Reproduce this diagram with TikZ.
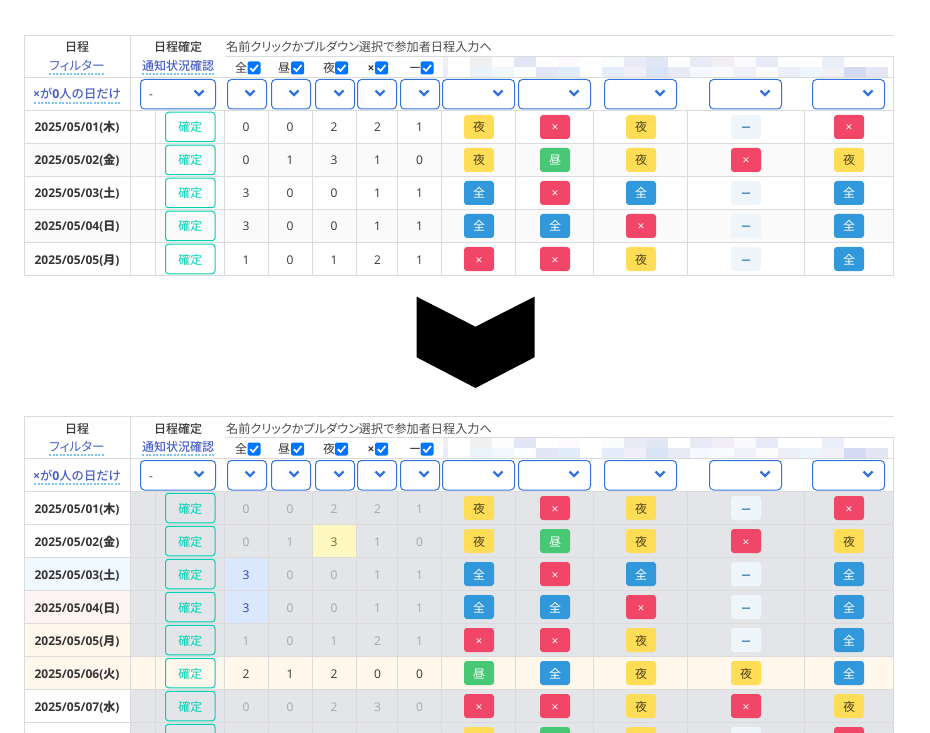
\documentclass[tikz,border=0pt]{standalone}
\usepackage{fontspec}
\usepackage{xcolor}
\setmainfont{Noto Sans CJK JP}
\newfontfamily\latn{Open Sans}
\newfontfamily\cjkmed{Noto Sans CJK JP Medium}
\newfontfamily\cjkprop{Noto Sans CJK JP}[RawFeature=+palt]
\definecolor{cellline}{HTML}{DBDBDB}
\definecolor{stripe}{HTML}{FAFAFA}
\definecolor{linkblue}{HTML}{3273DC}
\definecolor{filterblue}{HTML}{485FC7}
\definecolor{dotblue}{HTML}{7CC4F2}
\definecolor{primary}{HTML}{00D1B2}
\definecolor{bodytext}{HTML}{363636}
\definecolor{headtext}{HTML}{4A4A4A}
\definecolor{tickblue}{HTML}{0075FF}
\definecolor{tagyellow}{HTML}{FFDD57}
\definecolor{tagred}{HTML}{F14668}
\definecolor{taggreen}{HTML}{48C774}
\definecolor{tagblue}{HTML}{3298DC}
\definecolor{taglight}{HTML}{EEF5FB}
\definecolor{taglighttext}{HTML}{1D72AA}
\definecolor{greycell}{HTML}{E4E5E9}
\definecolor{greytext}{HTML}{A3A6B0}
\definecolor{rowpeach}{HTML}{FFF6EC}
\definecolor{rowsky}{HTML}{EFF7FF}
\definecolor{rowpink}{HTML}{FEF3F3}
\definecolor{cellyellow}{HTML}{FFF8C0}
\definecolor{cellblue}{HTML}{DAE7FC}
\definecolor{hiyellow}{HTML}{8A6410}
\definecolor{hiblue}{HTML}{2A3FC0}
\newcommand{\basefont}{\fontsize{12}{14}\selectfont}
\tikzset{
    every node/.style={font=\basefont,inner sep=0pt,text=bodytext,text height=10.5pt,text depth=0.5pt},
    gridline/.style={cellline,line width=1pt},
    filterlink/.style={text=filterblue},
    dotline/.style={dotblue,line width=2pt,dash pattern=on 2pt off 1.5pt},
    selectbox/.style={draw=linkblue,line width=1pt,rounded corners=4pt},
    chevron/.style={linkblue,line width=2.2pt},
    checkbox/.style={fill=tickblue,rounded corners=2pt,minimum width=13pt,minimum height=13pt},
    tickmark/.style={white,line width=1.7pt},
    okbutton/.style={draw=primary,line width=1pt,rounded corners=3pt,minimum width=49.5pt,minimum height=29.5pt,text=primary},
    numcell/.style={font=\latn\basefont},
    datecell/.style={font=\latn\bfseries\basefont},
    tagbox/.style={rounded corners=3pt,minimum width=30pt,minimum height=24pt},
    tag夜/.style={tagbox,fill=tagyellow,text=black!70!tagyellow},
    tag×/.style={tagbox,fill=tagred,text=white,font=\latn\basefont},
    tag昼/.style={tagbox,fill=taggreen,text=white},
    tag全/.style={tagbox,fill=tagblue,text=white},
    tagー/.style={tagbox,fill=taglight,text=taglighttext,font=\cjkmed\fontsize{10}{12}\selectfont},
}
% header block, shared by both tables
\newcommand{\tablehead}[1]{
        \foreach \tilecol [count=\t from 0] in {FFFFFF,F0F0F0,FDFDFD,E2E6F5,FFFFFF,FCFAFD,FFFFFF,FBFDFC,E8EAF6,E2E7F6,FFFFFF,E8EAF6,F3EEF5,FAFAFC,E8EAF7,FFFFFF,FFFFFF,EAEEF9,FFFFFF,FFFFFF} {
            \definecolor{tilefill}{HTML}{\tilecol}
            \fill[tilefill] (448+22*\t,57) rectangle (470+22*\t,67);
        }
        \foreach \tilecol [count=\t from 0] in {FFFFFF,EAF2FC,F0F7FD,FBFDFF,E2E6F6,E1ECFA,FFFFFF,E4EEFA,F0EEF8,D9E5F7,E8EAF6,F5F8FE,F7FBFE,F0F1F8,FCFCFF,ECEEF8,EDF5FD,F2F1F8,D2DBF3,E4E6F3} {
            \definecolor{tilefill}{HTML}{\tilecol}
            \fill[tilefill] (448+22*\t,67) rectangle (470+22*\t,77);
        }
        \fill[black!6] (443,57) rectangle (448,67);
        \fill[blue!8] (443,67) rectangle (448,77);
        \node[font=\cjkmed\basefont] (#1-day) at (77,47) {日程};
        \node[filterlink,font=\cjkprop\fontsize{12.6}{14}\selectfont] (#1-filter) at (77,65.5) {フィルター};
        \draw[dotline] (49,74) -- (105,74);
        \node[font=\cjkmed\basefont] (#1-fix) at (178,47) {日程確定};
        \node[filterlink,font=\cjkmed\basefont] (#1-notice) at (178,65.5) {通知状況確認};
        \draw[dotline] (142,74) -- (214,74);
        \node[anchor=west,text=headtext,font=\cjkprop\fontsize{12.15}{14}\selectfont] (#1-hint) at (226,47) {名前クリックかプルダウン選択で参加者日程入力へ};
        \node[filterlink,font=\cjkmed\fontsize{12.3}{14}\selectfont] (#1-zero) at (77,94) {{\latn\bfseries ×}が{\latn\bfseries 0}人の日だけ};
        \draw[dotline] (34,103) -- (121,103);
        \foreach \labx/\boxx/\labname [count=\c] in {241/254/全,284/297.5/昼,329/341.5/夜,371/381.5/\latn\bfseries ×,415/427/ー} {
            \node (#1-lab\c) at (\labx,67.5) {\labname};
            \node[checkbox] (#1-chk\c) at (\boxx,68) {};
            \draw[tickmark] (\boxx-3.7,68.2) -- (\boxx-1,71) -- (\boxx+4,65);
        }
        \foreach \selleft/\selright/\chevx in {140.5/215.5/199,227.5/266.5/250,271.5/310.5/294,315.5/354.5/339,357.5/396.5/380,400.5/439.5/424,442.5/514.5/498,518.5/590.5/574,604.5/676.5/660,709.5/781.5/765,812.5/884.5/868} {
            \draw[selectbox] (\selleft,79.5) rectangle (\selright,109);
            \draw[chevron] (\chevx-4.5,90.5) -- (\chevx,95) -- (\chevx+4.5,90.5);
        }
        \node[font=\latn\basefont] (#1-dash) at (151,94) {-};
}
\newcommand{\tablegrid}[2]{
        \draw[gridline] (24,35.5) -- (893.5,35.5);
        \draw[gridline] (225,56.5) -- (893.5,56.5);
        \foreach \liney in {77.5,110.5,...,#2} {
            \draw[gridline] (24,\liney) -- (893.5,\liney);
        }
        \draw[gridline] (24.5,35.5) -- (24.5,#1);
        \draw[gridline] (130.5,35.5) -- (130.5,#1);
        \draw[gridline] (893.5,56.5) -- (893.5,#1);
        \foreach \linex in {155.5,224.5,268.5,312.5,356.5,397.5,441.5,515.5,593.5,687.5,804.5} {
            \draw[gridline] (\linex,110.5) -- (\linex,#1);
        }
}
\newcommand{\tablerow}[7]{
        \pgfmathsetmacro{\rowy}{127+33*(#2-1)}
        \node[datecell] (#1-date#2) at (77,\rowy) {2025/05/#3({\cjkmed #4})};
        \node[okbutton] (#1-ok#2) at (190.25,\rowy) {確定};
        \foreach \numval [count=\c] in {#6} {
            \pgfmathsetmacro{\numx}{{246,290,334,377.5,419.5}[\c-1]}
            \node[numcell,text=#5] (#1-num#2-\c) at (\numx,\rowy) {\numval};
        }
        \foreach \tagname [count=\c] in {#7} {
            \pgfmathsetmacro{\tagx}{{479,555,641,746,849}[\c-1]}
            \node[tag\tagname] (#1-tag#2-\c) at (\tagx,\rowy) {\tagname};
        }
}
\begin{document}
\begin{tikzpicture}[x=1pt,y=-1pt]
        \useasboundingbox (0,0) rectangle (930,733);
        \clip (0,0) rectangle (930,733);
        \fill[stripe] (24,143.5) rectangle (893.5,176.5);
        \fill[stripe] (24,209.5) rectangle (893.5,242.5);
        \tablegrid{275.5}{275.5}
        \tablehead{top}
        \tablerow{top}{1}{01}{木}{bodytext}{0,0,2,2,1}{夜,×,夜,ー,×}
        \tablerow{top}{2}{02}{金}{bodytext}{0,1,3,1,0}{夜,昼,夜,×,夜}
        \tablerow{top}{3}{03}{土}{bodytext}{3,0,0,1,1}{全,×,全,ー,全}
        \tablerow{top}{4}{04}{日}{bodytext}{3,0,0,1,1}{全,全,×,ー,全}
        \tablerow{top}{5}{05}{月}{bodytext}{1,0,1,2,1}{×,×,夜,ー,全}
        \fill[black] (416.7,296.7) -- (475.5,326.7) -- (534.5,296.7) -- (534.5,357.3) -- (475.5,388) -- (416.7,357.3) -- cycle;
        \begin{scope}[yshift=-381pt]
            \fill[greycell] (130,110) rectangle (893.5,275);
            \fill[greycell] (130,308) rectangle (893.5,360);
            \fill[rowpeach] (24,275) rectangle (893.5,308);
            \fill[rowsky] (24,176) rectangle (130,209);
            \fill[rowpink] (24,209) rectangle (130,242);
            \fill[rowpeach] (24,242) rectangle (130,275);
            \fill[cellyellow] (312.5,143.5) rectangle (356.5,176.5);
            \fill[cellblue] (224.5,176.5) rectangle (268.5,242.5);
            \tablegrid{360}{341.5}
            \tablehead{low}
            \tablerow{low}{1}{01}{木}{greytext}{0,0,2,2,1}{夜,×,夜,ー,×}
            \tablerow{low}{2}{02}{金}{greytext}{0,1,\color{hiyellow}3,1,0}{夜,昼,夜,×,夜}
            \tablerow{low}{3}{03}{土}{greytext}{\color{hiblue}3,0,0,1,1}{全,×,全,ー,全}
            \tablerow{low}{4}{04}{日}{greytext}{\color{hiblue}3,0,0,1,1}{全,全,×,ー,全}
            \tablerow{low}{5}{05}{月}{greytext}{1,0,1,2,1}{×,×,夜,ー,全}
            \tablerow{low}{6}{06}{火}{bodytext}{2,1,2,0,0}{昼,全,夜,夜,全}
            \tablerow{low}{7}{07}{水}{greytext}{0,0,2,3,0}{×,×,夜,×,夜}
            \node[okbutton] (low-ok8) at (190.25,358) {};
            \foreach \tagx/\tagcol in {479/tagyellow,555/taggreen,641/tagyellow,746/taglight,849/tagred} {
                \node[tagbox,fill=\tagcol] (low-tag8-\tagx) at (\tagx,358) {};
            }
        \end{scope}
    \end{tikzpicture}
\end{document}
